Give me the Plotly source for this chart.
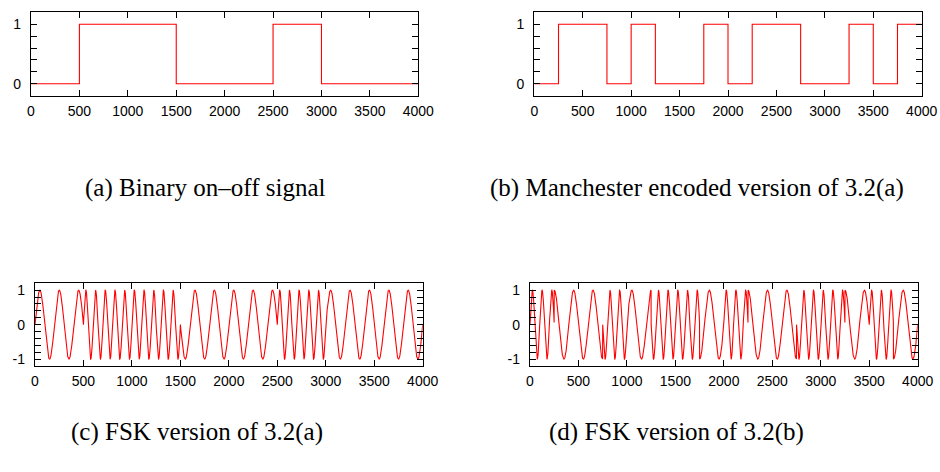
import numpy as np
import plotly.graph_objects as go

# ---- data ----
bits = [0, 1, 1, 0, 0, 1, 0, 0]            # binary on-off signal, one bit per 500 samples
bit_len = 500
manchester = [0, 1, 1, 0, 1, 0, 0, 1, 0, 1, 1, 0, 0, 1, 0, 1]   # half-bit levels, 250 samples each
half_len = 250
period_c = {0: 200, 1: 100}   # FSK of (a): level -> carrier period
period_d = {0: 100, 1: 200}   # FSK of (b): level -> carrier period
x_ticks = [0, 500, 1000, 1500, 2000, 2500, 3000, 3500, 4000]
captions = ["(a) Binary on\u2013off signal",
            "(b) Manchester encoded version of 3.2(a)",
            "(c) FSK version of 3.2(a)",
            "(d) FSK version of 3.2(b)"]

# ---- derived traces ----
xa = [i * bit_len for i in range(len(bits))] + [len(bits) * bit_len]
ya = bits + [bits[-1]]
xb = [i * half_len for i in range(len(manchester))] + [len(manchester) * half_len]
yb = manchester + [manchester[-1]]

t = np.arange(0, 4001, 1.0)
def fsk(levels, seg, periods):
    idx = np.minimum((t // seg).astype(int), len(levels) - 1)
    per = np.array([periods[levels[i]] for i in idx], dtype=float)
    return np.sin(2 * np.pi * t / per)

yc = fsk(bits, bit_len, period_c)
yd = fsk(manchester, half_len, period_d)

W, H = 940, 472
def px(x0, x1):
    return [x0 / W, x1 / W]
def py(top, bottom):
    return [1 - bottom / H, 1 - top / H]

RED = "#ff0000"
fig = go.Figure()
fig.add_trace(go.Scatter(x=xa, y=ya, mode="lines", line=dict(color=RED, width=1.1, shape="hv"),
                         xaxis="x", yaxis="y", showlegend=False))
fig.add_trace(go.Scatter(x=xb, y=yb, mode="lines", line=dict(color=RED, width=1.1, shape="hv"),
                         xaxis="x2", yaxis="y2", showlegend=False))
fig.add_trace(go.Scatter(x=t, y=yc, mode="lines", line=dict(color=RED, width=1.1),
                         xaxis="x3", yaxis="y3", showlegend=False))
fig.add_trace(go.Scatter(x=t, y=yd, mode="lines", line=dict(color=RED, width=1.1),
                         xaxis="x4", yaxis="y4", showlegend=False))

tickfont = dict(family="Liberation Sans, Arial, sans-serif", size=14, color="black")

def xax(dom, anchor):
    return dict(domain=dom, anchor=anchor, range=[0, 4000], tickvals=x_ticks,
                ticktext=[str(v) for v in x_ticks], ticks="inside", ticklen=6,
                tickwidth=1.3, tickcolor="black", showline=True, linecolor="black",
                linewidth=1.3, mirror="ticks", showgrid=False, zeroline=False,
                tickfont=tickfont, ticklabelstandoff=2, automargin=False)

def yax(dom, anchor, lo, hi, labelled):
    vals = [round(v, 1) for v in np.arange(lo, hi + 0.001, 0.2)]
    text = [str(int(v)) if v in labelled else "" for v in vals]
    return dict(domain=dom, anchor=anchor, range=[lo - 0.2, hi + 0.2], tickvals=vals,
                ticktext=text, ticks="inside", ticklen=6, tickwidth=1.3,
                tickcolor="black", showline=True, linecolor="black", linewidth=1.3,
                mirror="ticks", showgrid=False, zeroline=False, tickfont=tickfont,
                ticklabelstandoff=6, automargin=False)

fig.update_layout(
    width=W, height=H, margin=dict(l=0, r=0, t=0, b=0, pad=0, autoexpand=False),
    paper_bgcolor="white", plot_bgcolor="white", showlegend=False,
    xaxis=xax(px(31, 418.3), "y"),
    yaxis=yax(py(12.3, 95.7), "x", 0, 1, [0, 1]),
    xaxis2=xax(px(534.3, 921.7), "y2"),
    yaxis2=yax(py(12.3, 95.7), "x2", 0, 1, [0, 1]),
    xaxis3=xax(px(35, 422.7), "y3"),
    yaxis3=yax(py(283.3, 366), "x3", -1, 1, [-1, 0, 1]),
    xaxis4=xax(px(530, 917.7), "y4"),
    yaxis4=yax(py(283.3, 366), "x4", -1, 1, [-1, 0, 1]),
)

capfont = dict(family="Liberation Serif, Times New Roman, serif", size=25, color="black")
cap_pos = [(205, 188), (697, 188), (197, 432), (676, 432)]
for txt, (cx, cy) in zip(captions, cap_pos):
    fig.add_annotation(text=txt, x=cx / W, y=1 - cy / H, xref="paper", yref="paper",
                       showarrow=False, font=capfont, xanchor="center", yanchor="middle")

fig.write_html("out.html", config={"displayModeBar": False},
               post_script="document.body.style.margin='0px';document.body.style.overflow='hidden';")
